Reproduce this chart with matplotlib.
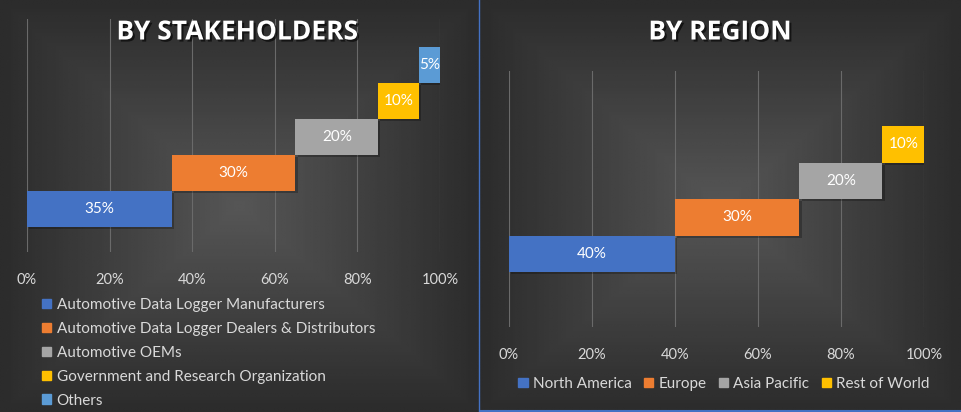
import numpy as np
import matplotlib.pyplot as plt
import matplotlib.patheffects as pe
from matplotlib.patches import Patch

# --- Données ---
stake_labels = ["Automotive Data Logger Manufacturers",
                "Automotive Data Logger Dealers & Distributors",
                "Automotive OEMs",
                "Government and Research Organization",
                "Others"]
stake_values = [35, 30, 20, 10, 5]
stake_colors = ["#4472C4", "#ED7D31", "#A5A5A5", "#FFC000", "#5B9BD5"]

region_labels = ["North America", "Europe", "Asia Pacific", "Rest of World"]
region_values = [40, 30, 20, 10]
region_colors = ["#4472C4", "#ED7D31", "#A5A5A5", "#FFC000"]

ticks = [0, 20, 40, 60, 80, 100]
tick_labels = ["0%", "20%", "40%", "60%", "80%", "100%"]

W, H = 962, 412
plt.rcParams["font.family"] = ["Lato", "DejaVu Sans"]
fig = plt.figure(figsize=(W / 100, H / 100), dpi=100)


def px_axes(x0, y0, x1, y1):
    # coordonnées en pixels (origine en haut à gauche)
    return fig.add_axes([x0 / W, (H - y1) / H, (x1 - x0) / W, (y1 - y0) / H])


def background(x0, x1):
    bg = px_axes(x0, 0, x1, H)
    nx, ny = 200, 120
    u = np.abs(np.linspace(-1, 1, nx))[None, :]
    v = np.abs(np.linspace(-1, 1, ny))[:, None]
    t = np.maximum(u, v)
    img = 0x56 / 255 * (1 - t) + 0x2c / 255 * t
    bg.imshow(img, cmap="gray", vmin=0, vmax=1, aspect="auto",
              extent=[0, 1, 0, 1], interpolation="bilinear")
    bg.set_axis_off()
    bg.set_zorder(-10)


background(0, 479)
background(480, W)

shadow = [pe.SimplePatchShadow(offset=(1.5, -1.5), shadow_rgbFace="black", alpha=0.25), pe.Normal()]
title_fx = [pe.SimplePatchShadow(offset=(1.5, -1.5), shadow_rgbFace="black", alpha=0.6), pe.Normal()]


def cascade(ax, values, colors, ylim):
    base = np.concatenate([[0], np.cumsum(values)[:-1]])
    y = np.arange(len(values))
    bars = ax.barh(y, values, left=base, height=1.0, color=colors, zorder=3)
    for b in bars:
        b.set_path_effects(shadow)
    for yi, b0, v in zip(y, base, values):
        ax.text(b0 + v / 2, yi, f"{v}%", ha="center", va="center",
                color="white", fontsize=11, zorder=4)
    ax.set_xlim(0, 100)
    ax.set_ylim(*ylim)
    ax.set_xticks(ticks)
    ax.set_xticklabels(tick_labels)
    ax.set_yticks([])
    ax.tick_params(axis="x", length=0, pad=15, labelsize=10.5, labelcolor="#d9d9d9")
    ax.grid(axis="x", color="#6a6a6a", linewidth=0.8, zorder=0)
    ax.set_facecolor("none")
    for s in ax.spines.values():
        s.set_visible(False)


# --- Par acteurs ---
ax1 = px_axes(27, 19, 440, 252)
cascade(ax1, stake_values, stake_colors, (-1.19, 5.28))
fig.text(237 / W, 1 - 32 / H, "BY STAKEHOLDERS", ha="center", va="center",
         color="white", fontsize=19, fontweight="bold", family="Open Sans",
         path_effects=title_fx)
h1 = [Patch(color=c) for c in stake_colors]
ax1.legend(h1, stake_labels, loc="upper left", bbox_to_anchor=(42 / W, 1 - 298 / H),
           bbox_transform=fig.transFigure, frameon=False, fontsize=11,
           labelcolor="#d9d9d9", handlelength=0.6, handleheight=0.6,
           handletextpad=0.35, labelspacing=0.65, borderpad=0, borderaxespad=0)

# --- Par région ---
ax2 = px_axes(509, 71, 924, 327)
cascade(ax2, region_values, region_colors, (-2.0, 5.01))
fig.text(720 / W, 1 - 32 / H, "BY REGION", ha="center", va="center",
         color="white", fontsize=19, fontweight="bold", family="Open Sans",
         path_effects=title_fx)
h2 = [Patch(color=c) for c in region_colors]
ax2.legend(h2, region_labels, loc="center", bbox_to_anchor=(724 / W, 1 - 384 / H),
           bbox_transform=fig.transFigure, frameon=False, fontsize=11, ncol=4,
           labelcolor="#d9d9d9", handlelength=0.6, handleheight=0.6,
           handletextpad=0.35, columnspacing=0.8, borderpad=0, borderaxespad=0)

# séparateurs
fig.add_artist(plt.Line2D([479.5 / W, 479.5 / W], [0, 1], color="#4472C4", linewidth=1))
fig.add_artist(plt.Line2D([480 / W, 1], [0.8 / H, 0.8 / H], color="#4472C4", linewidth=1.5))

fig.savefig("out.png", dpi=100)
